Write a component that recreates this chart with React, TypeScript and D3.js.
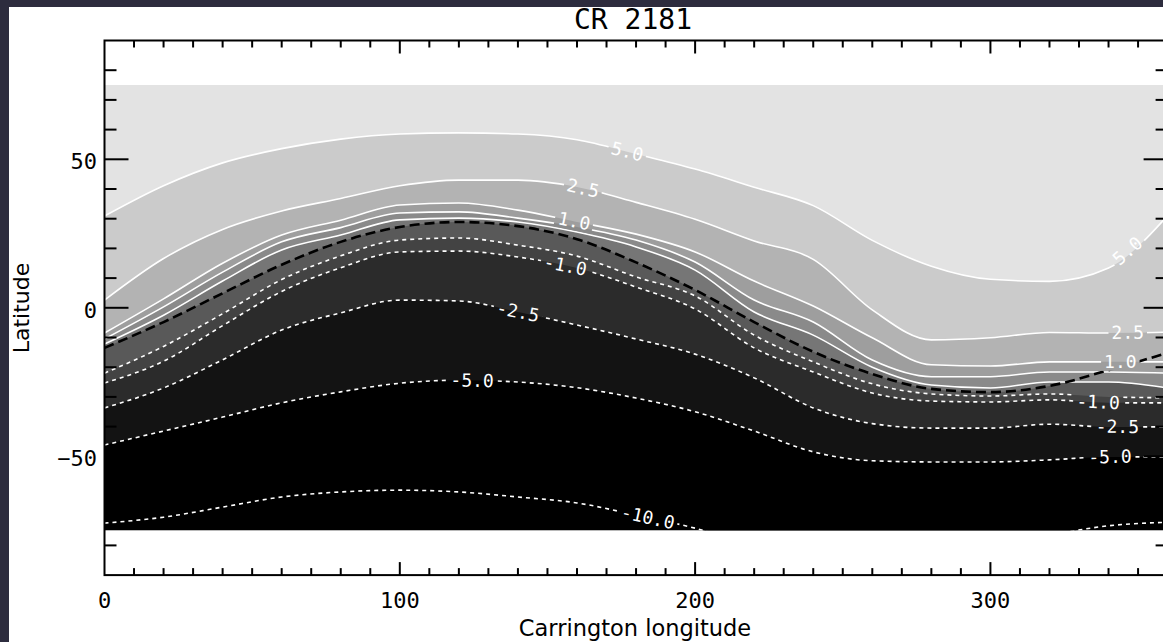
import React from 'react';
import * as d3 from 'd3';

// Carrington longitude samples (deg)
const lons = [0, 20, 40, 60, 80, 100, 120, 140, 160, 180, 200, 220, 240, 260, 280, 300, 320, 340, 360];

// Latitude of each contour line at the longitudes above
const pos50 = [30.9, 41.1, 48.8, 53.6, 56.8, 58.5, 58.9, 58.5, 56.6, 51.8, 46.7, 40.6, 34.4, 22.7, 14.0, 9.6, 8.9, 13.4, 31.0];
const pos25 = [2.6, 16.6, 26.4, 32.6, 36.8, 41.1, 43.0, 43.0, 40.7, 35.5, 29.8, 22.5, 16.3, -0.7, -10.8, -10.1, -8.3, -8.5, -8.2];
const pos10 = [-8.5, 3.0, 15.0, 24.5, 29.5, 34.6, 35.3, 32.9, 28.9, 24.8, 18.8, 9.0, 0.6, -10.1, -19.2, -19.6, -18.2, -18.2, -18.2];
const pos05 = [-10.5, 0.3, 12.0, 22.2, 27.0, 31.9, 32.3, 30.2, 27.2, 22.8, 15.4, 2.6, -4.8, -17.6, -23.2, -23.2, -21.6, -21.6, -22.0];
const pos02 = [-12.2, -2.5, 9.0, 19.5, 24.5, 29.6, 30.2, 28.9, 25.5, 20.5, 12.7, -1.4, -9.2, -20.0, -26.0, -27.0, -25.0, -25.0, -27.0];
const neutral = [-13.5, -4.8, 4.9, 14.5, 22.2, 27.2, 28.9, 27.5, 23.1, 15.3, 6.0, -4.8, -14.8, -22.3, -27.3, -28.4, -26.3, -21.0, -15.2];
const neg05 = [-22.0, -13.0, -2.0, 9.5, 17.5, 22.8, 23.5, 21.1, 17.4, 10.4, 4.0, -9.2, -18.2, -25.6, -29.0, -29.7, -29.0, -30.0, -30.3];
const neg10 = [-25.3, -18.0, -6.0, 5.5, 13.5, 18.8, 19.1, 17.1, 13.4, 7.0, -0.4, -13.5, -21.6, -28.7, -31.4, -31.7, -31.0, -32.0, -32.0];
const neg25 = [-33.7, -27.0, -17.5, -7.5, -1.7, 2.6, 2.3, -1.4, -5.8, -10.5, -15.6, -23.6, -33.7, -39.0, -40.5, -40.5, -39.2, -40.1, -40.1];
const neg50 = [-46.2, -41.5, -36.8, -32.0, -28.3, -25.4, -24.4, -25.0, -26.9, -30.4, -35.0, -41.5, -48.5, -51.5, -51.9, -51.9, -51.2, -50.2, -50.2];
const neg100 = [-72.5, -70.5, -67.1, -63.7, -62.0, -61.4, -62.0, -63.7, -65.7, -69.8, -74.2, -80.0, -82.0, -83.0, -82.0, -80.0, -76.5, -73.4, -72.2];

const levels = [-10.0, -5.0, -2.5, -1.0, -0.5, 0, 0.25, 0.5, 1.0, 2.5, 5.0];
const levelLats = [neg100, neg50, neg25, neg10, neg05, neutral, pos02, pos05, pos10, pos25, pos50];

const title = 'CR 2181';
const xLabel = 'Carrington longitude';
const yLabel = 'Latitude';
const xMajorTicks = [0, 100, 200, 300];
const yMajorTicks = [-50, 0, 50];
const dataLatLimit = 75;

export default function App() {
  const W = 1163, H = 642;
  const x = d3.scaleLinear().domain([0, 360]).range([104.5, 1167.6]);
  const y = d3.scaleLinear().domain([-90, 90]).range([575.1, 40.5]);

  // colour of the band lying above each level
  const bandAbove: Record<string, string> = {
    '-10': '#000000', '-5': '#131313', '-2.5': '#2b2b2b', '-1': '#434343', '-0.5': '#595959',
    '0': '#767676', '0.25': '#8a8a8a', '0.5': '#9e9e9e', '1': '#b3b3b3', '2.5': '#cbcbcb', '5': '#e3e3e3',
  };

  const curve = d3.curveMonotoneX;
  const area = (lats: number[]) =>
    d3.area<number>().x((_, i) => x(lons[i])).y0(y(dataLatLimit)).y1((d) => y(d)).curve(curve)(lats) || '';
  const line = (lats: number[]) =>
    d3.line<number>().x((_, i) => x(lons[i])).y((d) => y(d)).curve(curve)(lats) || '';

  // contour label placements: index into levels, longitude
  const labelSpecs = [
    { li: 10, lon: 177 }, { li: 10, lon: 346.5 },
    { li: 9, lon: 162 }, { li: 9, lon: 346.5 },
    { li: 8, lon: 159 }, { li: 8, lon: 344 },
    { li: 3, lon: 156 }, { li: 3, lon: 336.5 },
    { li: 2, lon: 140 }, { li: 2, lon: 343 },
    { li: 1, lon: 124.5 }, { li: 1, lon: 340.5 },
    { li: 0, lon: 184 },
  ];
  const fontLabel = 18;
  const labels = labelSpecs.map((s, k) => {
    const f = d3.scaleLinear().domain(lons).range(levelLats[s.li]);
    const px = x(s.lon), py = y(f(s.lon));
    const dx = x(s.lon + 5) - x(s.lon - 5);
    const dy = y(f(s.lon + 5)) - y(f(s.lon - 5));
    const ang = (Math.atan2(dy, dx) * 180) / Math.PI;
    const v = levels[s.li];
    const txt = v.toFixed(1);
    const w = txt.length * fontLabel * 0.602 + 6;
    return { k, px, py, ang, txt, w };
  });

  const xMinor = d3.range(10, 360, 10);
  const yMinor = d3.range(-80, 90, 10);
  const left = x(0), right = x(360), top = y(90), bottom = y(-90);
  const mono = '"DejaVu Sans Mono", monospace';
  const sans = '"DejaVu Sans", sans-serif';

  return (
    <svg width={W} height={H} style={{ position: 'fixed', left: 0, top: 0 }}>
      <defs>
        <clipPath id="dataClip">
          <rect x={left} y={y(dataLatLimit)} width={right - left} height={y(-dataLatLimit) - y(dataLatLimit)} />
        </clipPath>
        <mask id="labelMask" maskUnits="userSpaceOnUse" x={0} y={0} width={W} height={H}>
          <rect x={0} y={0} width={W} height={H} fill="white" />
          {labels.map((l) => (
            <rect key={l.k} x={-l.w / 2} y={-9} width={l.w} height={18} fill="black"
              transform={`translate(${l.px},${l.py}) rotate(${l.ang})`} />
          ))}
        </mask>
      </defs>
      <rect x={0} y={0} width={W} height={H} fill="#2d2c3e" />
      <rect x={9} y={7} width={W - 9} height={H - 7} fill="#ffffff" />

      <g clipPath="url(#dataClip)">
        <rect x={left} y={y(dataLatLimit)} width={right - left} height={y(-dataLatLimit) - y(dataLatLimit)} fill="#000000" />
        {levels.map((lv, i) => (
          <path key={'a' + i} d={area(levelLats[i])} fill={bandAbove[String(lv)]} />
        ))}
        <g mask="url(#labelMask)">
          {levels.map((lv, i) => {
            if (lv === 0) return null;
            return (
              <path key={'l' + i} d={line(levelLats[i])} fill="none" stroke="#ffffff" strokeWidth={1.6}
                strokeDasharray={lv < 0 ? '4 4' : undefined} />
            );
          })}
          <path d={line(neutral)} fill="none" stroke="#000000" strokeWidth={2.6} strokeDasharray="10 5" />
        </g>
        {labels.map((l) => (
          <text key={'t' + l.k} transform={`translate(${l.px},${l.py}) rotate(${l.ang})`} textAnchor="middle"
            dy={6} fill="#ffffff" fontFamily={mono} fontSize={fontLabel}>{l.txt}</text>
        ))}
      </g>

      {/* frame */}
      <rect x={left} y={top} width={right - left} height={bottom - top} fill="none" stroke="#000" strokeWidth={2} />
      {xMinor.map((v) => {
        const major = xMajorTicks.includes(v);
        const len = major ? 13 : 7;
        return (
          <g key={'xt' + v} stroke="#000" strokeWidth={2}>
            <line x1={x(v)} x2={x(v)} y1={bottom} y2={bottom - len} />
            <line x1={x(v)} x2={x(v)} y1={top} y2={top + len} />
          </g>
        );
      })}
      {yMinor.map((v) => {
        const major = yMajorTicks.includes(v);
        const len = major ? 24 : 12;
        return (
          <g key={'yt' + v} stroke="#000" strokeWidth={2}>
            <line x1={left} x2={left + len} y1={y(v)} y2={y(v)} />
            <line x1={right} x2={right - len} y1={y(v)} y2={y(v)} />
          </g>
        );
      })}
      {xMajorTicks.map((v) => (
        <text key={'xl' + v} x={x(v)} y={608} textAnchor="middle" fontFamily={mono} fontSize={22} fill="#000">{v}</text>
      ))}
      {yMajorTicks.map((v) => (
        <text key={'yl' + v} x={97} y={y(v) + 10} textAnchor="end" fontFamily={mono} fontSize={22} fill="#000">
          {v < 0 ? '\u2212' + Math.abs(v) : String(v)}
        </text>
      ))}
      <text x={633} y={29} textAnchor="middle" fontFamily={mono} fontSize={28} fill="#000">{title}</text>
      <text x={635} y={636} textAnchor="middle" fontFamily={sans} fontSize={22.5} fill="#000">{xLabel}</text>
      <text transform={`translate(29,308) rotate(-90)`} textAnchor="middle" fontFamily={sans} fontSize={22} fill="#000">{yLabel}</text>
    </svg>
  );
}
